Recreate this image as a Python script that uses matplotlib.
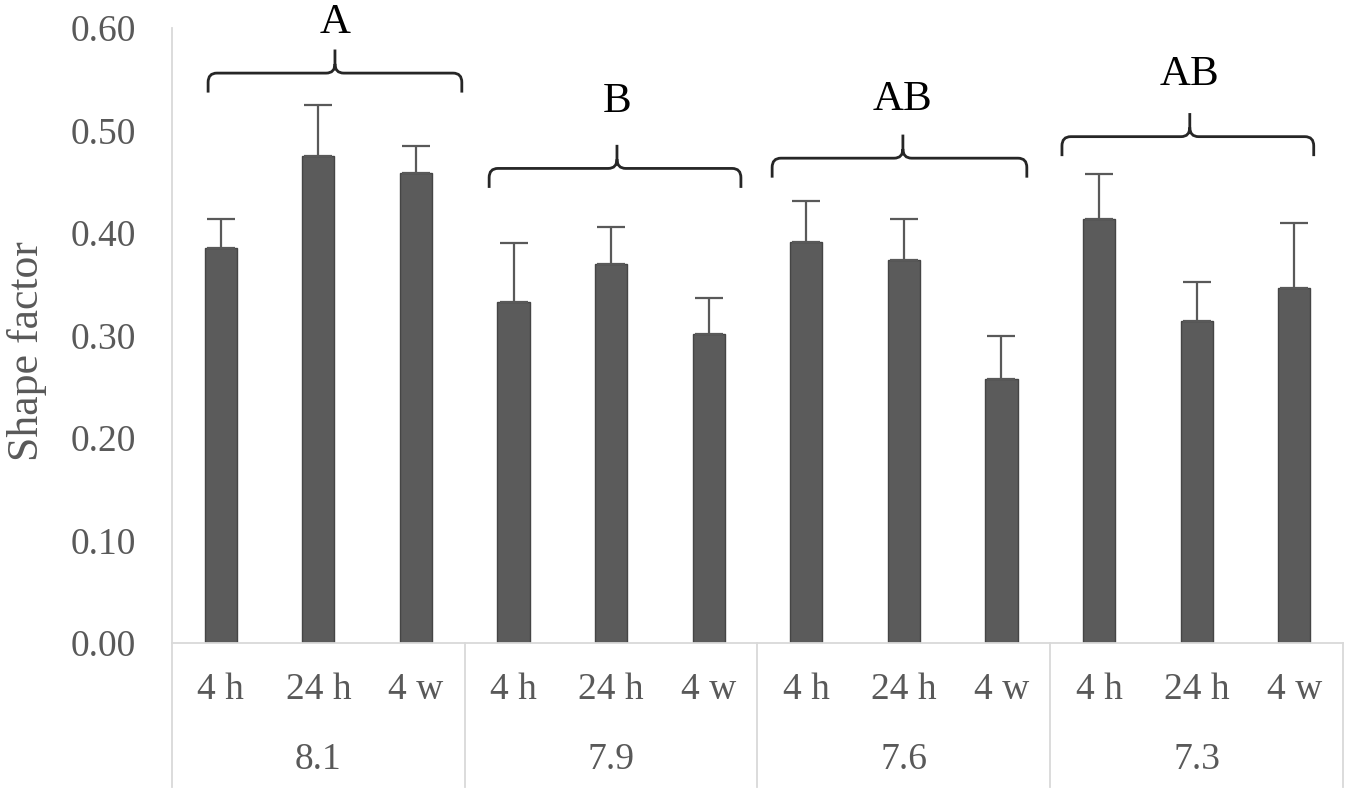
import numpy as np
import matplotlib
matplotlib.use("Agg")
from matplotlib import pyplot as plt
from matplotlib.path import Path
from matplotlib.patches import PathPatch
import matplotlib.transforms as mtrans

plt.rcParams['font.family'] = ['Liberation Serif', 'DejaVu Serif']

times = ['4 h', '24 h', '4 w']
groups = ['8.1', '7.9', '7.6', '7.3']
means = [0.385, 0.475, 0.459, 0.333, 0.370, 0.301, 0.391, 0.374, 0.258, 0.414, 0.314, 0.346]
errs = [0.029, 0.050, 0.026, 0.057, 0.036, 0.036, 0.040, 0.040, 0.042, 0.044, 0.038, 0.064]
letters = ['A', 'B', 'AB', 'AB']
# bracket: left, right, spike x, height of horizontal part
br_left = [-0.13, 2.75, 5.65, 8.62]
br_right = [2.47, 5.33, 8.26, 11.20]
br_mid = [1.17, 4.06, 6.99, 9.93]
br_y = [0.556, 0.463, 0.473, 0.494]
letter_y = [0.595, 0.518, 0.520, 0.544]

fig = plt.figure(figsize=(13.5, 7.9), dpi=100)
ax = fig.add_axes([172/1350, 1-643/790, 1171/1350, 615/790])

x = np.arange(len(means))
ax.bar(x, means, width=0.33, color='#5b5b5b', edgecolor='#454545', linewidth=1, zorder=2)
ax.errorbar(x, means, yerr=[np.zeros(len(errs)), errs], fmt='none', ecolor='#595959',
            elinewidth=1.6, capsize=10, capthick=1.6, zorder=3)

ax.set_xlim(-0.5, len(means) - 0.5)
ax.set_ylim(0, 0.6)
ax.set_yticks(np.arange(0, 0.61, 0.1))
ax.set_yticklabels([f'{v:.2f}' for v in np.arange(0, 0.61, 0.1)])
ax.tick_params(axis='y', length=0, pad=26, labelsize=27, labelcolor='#595959')
ax.set_xticks([])
for s in ['top', 'right']:
    ax.spines[s].set_visible(False)
for s in ['left', 'bottom']:
    ax.spines[s].set_color('#d9d9d9')
    ax.spines[s].set_linewidth(1.3)
ax.set_ylabel('Shape factor', fontsize=31.5, color='#595959')
ax.yaxis.set_label_coords(-125/1171, 0.475)

# category axis labels and separators
trans = mtrans.blended_transform_factory(ax.transData, ax.transAxes)
for i, xi in enumerate(x):
    ax.text(xi, -47/615, times[i % 3], transform=trans, ha='center', va='center',
            fontsize=27, color='#595959')
for g in range(len(groups)):
    ax.text(g*3 + 1, -117/615, groups[g], transform=trans, ha='center', va='center',
            fontsize=27, color='#595959')
for g in range(len(groups) + 1):
    ax.plot([g*3 - 0.5, g*3 - 0.5], [0, -144/615], transform=trans, color='#d9d9d9',
            linewidth=1.3, clip_on=False)

# curly brackets with letters
cx, cy = 0.09, 0.009
hd, hu = 0.019, 0.023
for i in range(len(letters)):
    x0, x1, xm, yh = br_left[i], br_right[i], br_mid[i], br_y[i]
    verts = [(x0, yh - hd), (x0, yh - cy), (x0, yh), (x0 + cx, yh), (xm - cx, yh),
             (xm, yh), (xm, yh + cy), (xm, yh + hu),
             (xm, yh + cy), (xm, yh), (xm + cx, yh), (x1 - cx, yh),
             (x1, yh), (x1, yh - cy), (x1, yh - hd)]
    codes = [Path.MOVETO, Path.LINETO, Path.CURVE3, Path.CURVE3, Path.LINETO,
             Path.CURVE3, Path.CURVE3, Path.LINETO,
             Path.MOVETO, Path.CURVE3, Path.CURVE3, Path.LINETO,
             Path.CURVE3, Path.CURVE3, Path.LINETO]
    ax.add_patch(PathPatch(Path(verts, codes), facecolor='none', edgecolor='#262626',
                           linewidth=2, clip_on=False))
    ax.text(xm, letter_y[i], letters[i], ha='center', va='baseline', fontsize=31,
            color='black', clip_on=False)

fig.savefig('out.png', dpi=100)
